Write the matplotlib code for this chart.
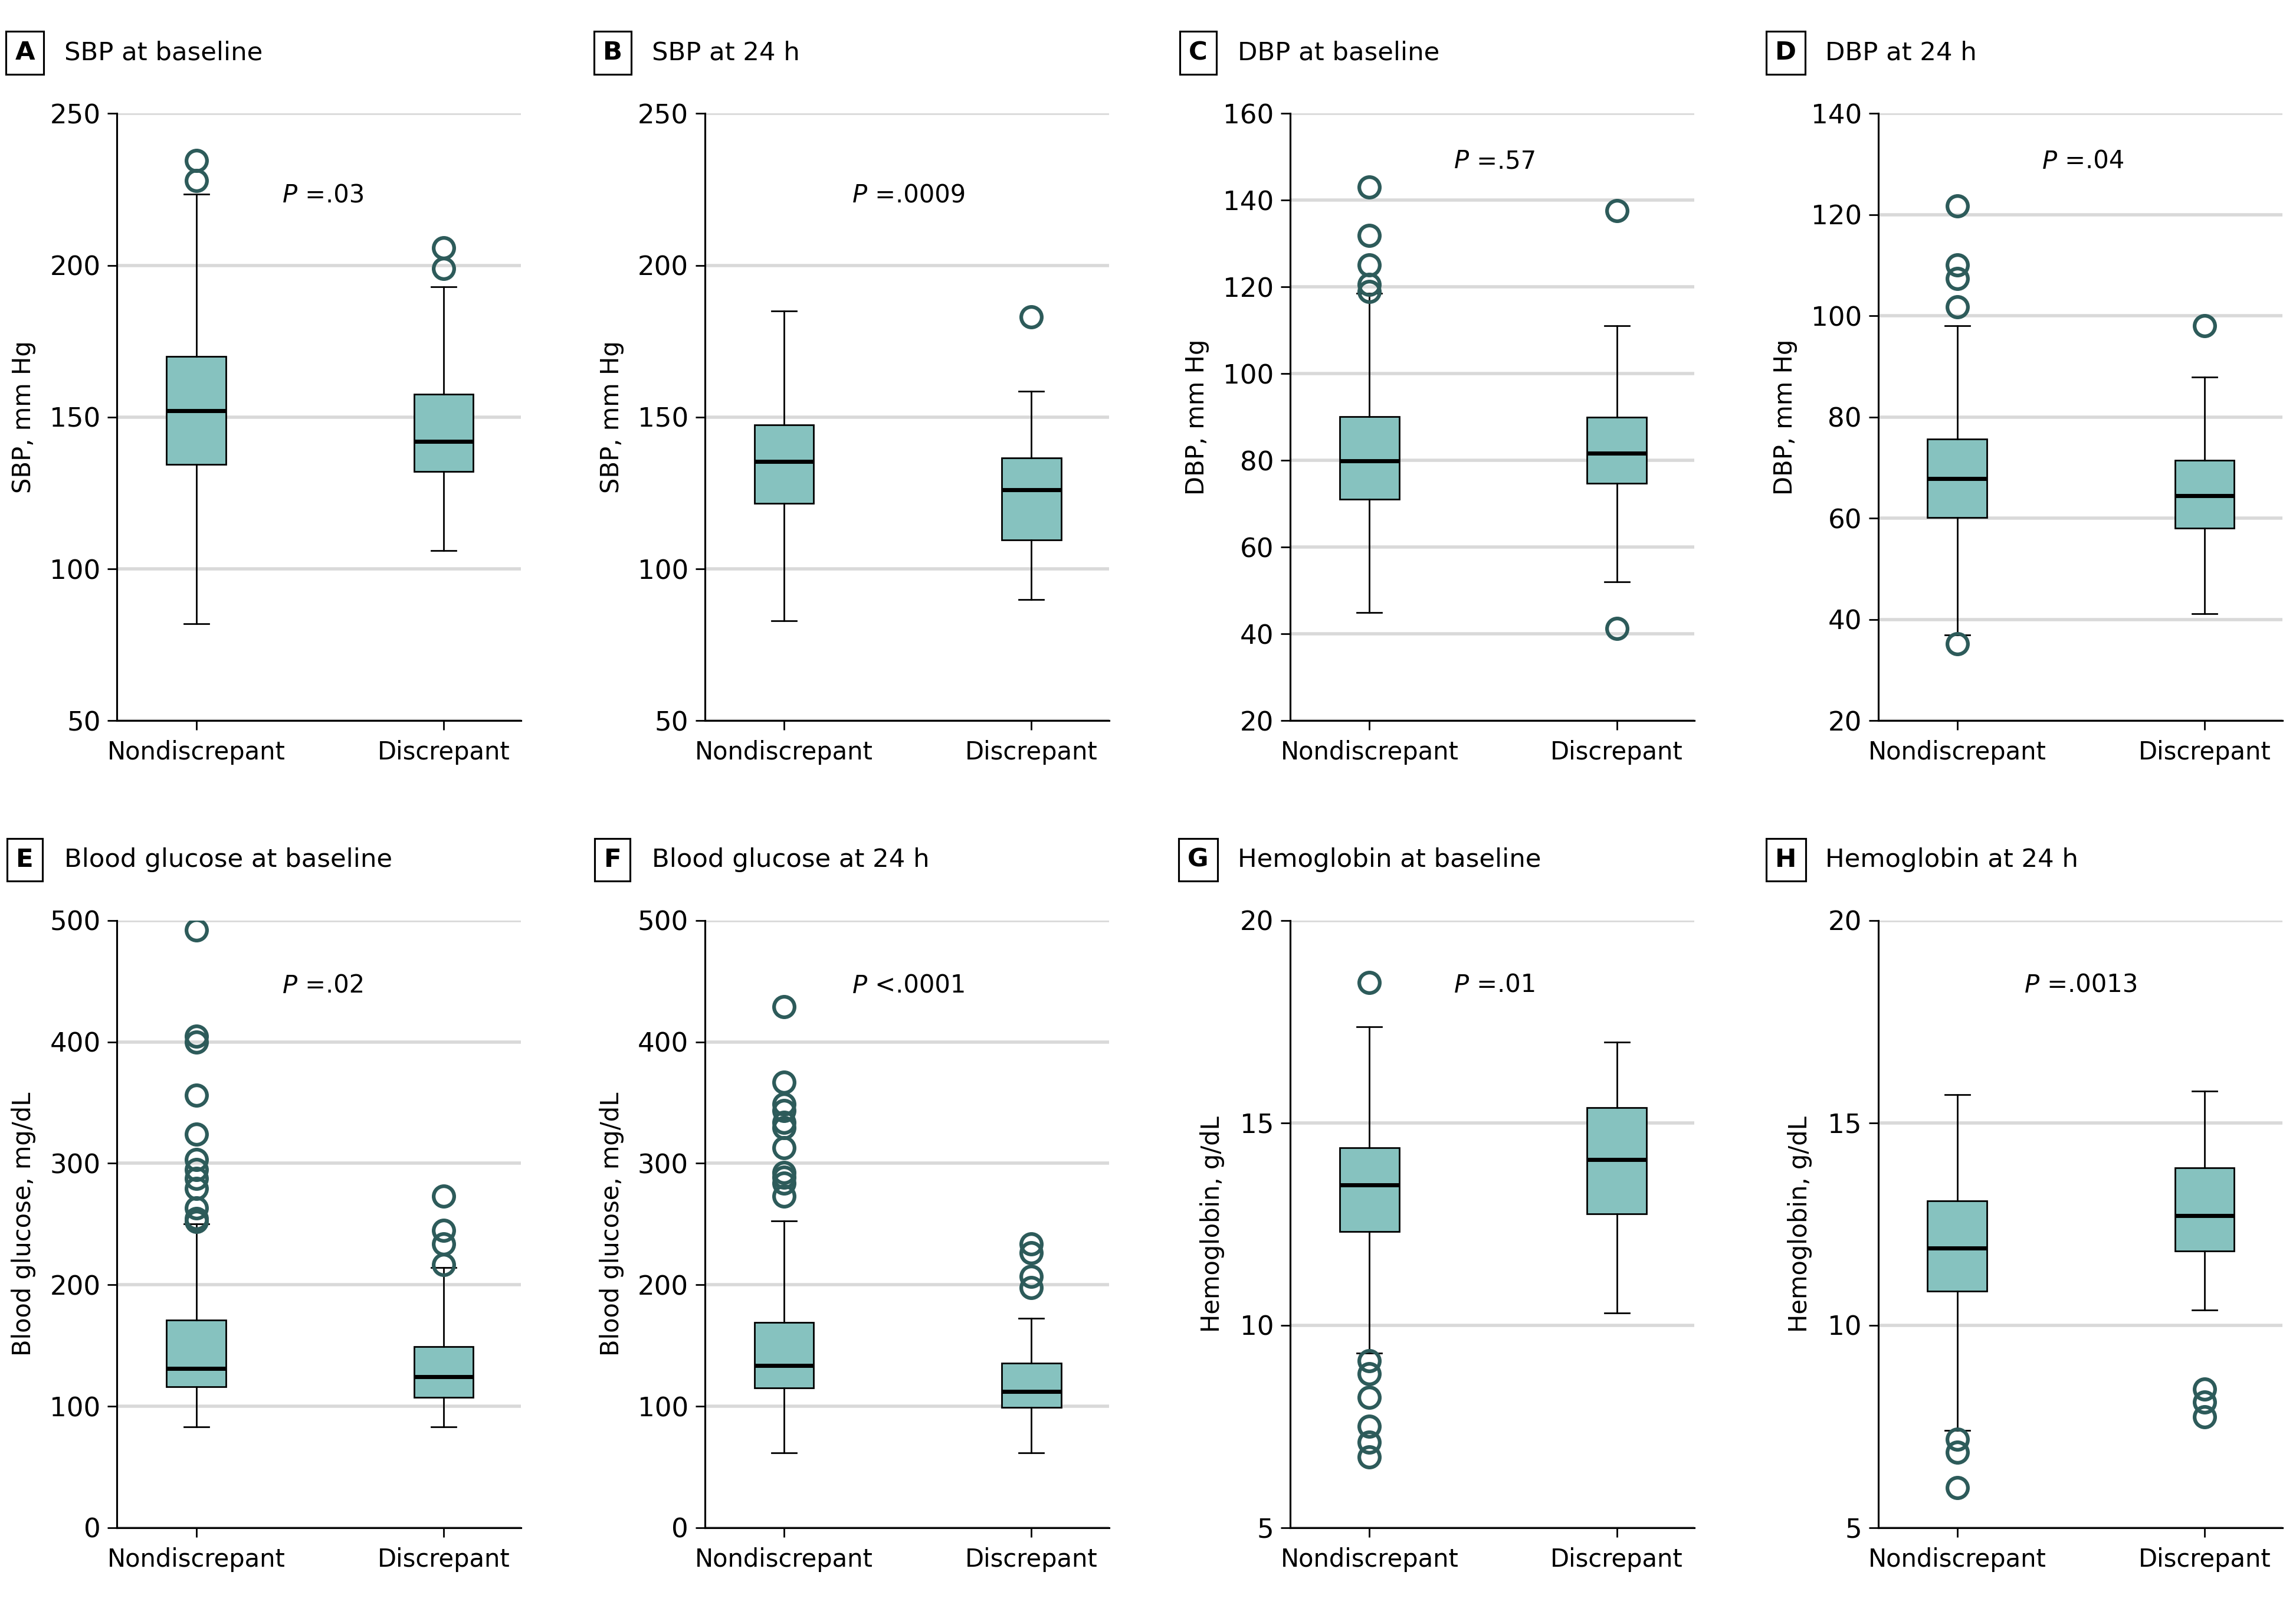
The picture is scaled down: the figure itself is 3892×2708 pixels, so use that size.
import matplotlib.pyplot as plt

plt.rcParams['font.family'] = ['DejaVu Sans']

groups = ['Nondiscrepant', 'Discrepant']
letters = ['A', 'B', 'C', 'D', 'E', 'F', 'G', 'H']
titles = ['SBP at baseline', 'SBP at 24 h', 'DBP at baseline', 'DBP at 24 h',
          'Blood glucose at baseline', 'Blood glucose at 24 h',
          'Hemoglobin at baseline', 'Hemoglobin at 24 h']
ylabels = ['SBP, mm Hg', 'SBP, mm Hg', 'DBP, mm Hg', 'DBP, mm Hg',
           'Blood glucose, mg/dL', 'Blood glucose, mg/dL',
           'Hemoglobin, g/dL', 'Hemoglobin, g/dL']
p_labels = ['=.03', '=.0009', '=.57', '=.04', '=.02', '<.0001', '=.01', '=.0013']
ylims = [(50, 250), (50, 250), (20, 160), (20, 140), (0, 500), (0, 500), (5, 20), (5, 20)]
yticks = [[50, 100, 150, 200, 250], [50, 100, 150, 200, 250],
          [20, 40, 60, 80, 100, 120, 140, 160], [20, 40, 60, 80, 100, 120, 140],
          [0, 100, 200, 300, 400, 500], [0, 100, 200, 300, 400, 500],
          [5, 10, 15, 20], [5, 10, 15, 20]]

# per panel: [nondiscrepant, discrepant]
whislo = [[82, 106], [83, 90], [45, 52], [37, 41.1], [83, 83], [61.4, 61.4], [9.31, 10.31], [7.4, 10.38]]
q1 = [[134.5, 132], [121.5, 109.5], [71, 74.8], [60.1, 58.1], [116, 107.4], [115, 99], [12.32, 12.75], [10.85, 11.83]]
med = [[152, 142], [135.3, 126], [79.9, 81.7], [67.9, 64.5], [131, 124.4], [133.7, 112.3], [13.46, 14.1], [11.91, 12.71]]
q3 = [[170, 157.5], [147.5, 136.5], [90.1, 90], [75.7, 71.5], [171, 149], [169, 135.3], [14.38, 15.38], [13.07, 13.89]]
whishi = [[223.5, 193], [185, 158.5], [118.5, 111], [98.1, 87.9], [250.4, 214], [252.4, 172.5], [17.38, 17.0], [15.69, 15.78]]
fliers = [
    [[234.5, 227.8], [205.7, 199]],
    [[], [183]],
    [[143, 131.9, 125.1, 120.6, 119], [137.6, 41.2]],
    [[121.7, 110.1, 107.4, 101.8, 35.2], [98.1]],
    [[492, 404.7, 400, 356, 324, 303, 295, 287.6, 279.5, 263.3, 254.4, 252], [273, 244.8, 233.4, 216.5]],
    [[428.9, 366.7, 349, 343.3, 333.6, 329.6, 312.6, 292.4, 288.4, 283.5, 273], [233.4, 226.2, 206.8, 197.9]],
    [[18.47, 9.12, 8.8, 8.22, 7.5, 7.11, 6.74], []],
    [[7.18, 6.87, 5.99], [8.42, 8.1, 7.74]],
]

# layout (figure fractions / data positions)
col_left = [0.051, 0.307, 0.562, 0.818]
row_bottom = [0.549, 0.044]
ax_w, ax_h = 0.176, 0.380
p_x = [0.35, 0.277, 0.343, 0.343, 0.349, 0.277, 0.343, 0.272]
p_y = [223, 223, 149, 130.5, 446, 446, 18.4, 18.4]
ylab_x = [-0.2, -0.2, -0.2, -0.2, -0.2, -0.2, -0.163, -0.163]

box_color = '#86c2bf'
flier_color = '#2d5b5a'
grid_color = '#d9d9d9'

fig = plt.figure(figsize=(15.568, 10.832), dpi=250)

for i in range(8):
    r, c = divmod(i, 4)
    ax = fig.add_axes([col_left[c], row_bottom[r], ax_w, ax_h])
    stats = []
    for g in range(2):
        stats.append(dict(med=med[i][g], q1=q1[i][g], q3=q3[i][g],
                          whislo=whislo[i][g], whishi=whishi[i][g],
                          fliers=fliers[i][g], label=groups[g]))
    ax.bxp(stats, positions=[0, 1], widths=0.24, capwidths=0.1, patch_artist=True,
           boxprops=dict(facecolor=box_color, edgecolor='black', linewidth=0.8),
           medianprops=dict(color='black', linewidth=2.0),
           whiskerprops=dict(color='black', linewidth=0.8),
           capprops=dict(color='black', linewidth=0.8),
           flierprops=dict(marker='o', markersize=10, markerfacecolor='none',
                           markeredgecolor=flier_color, markeredgewidth=1.8))
    ax.set_xlim(-0.32, 1.314)
    ax.set_ylim(*ylims[i])
    ax.set_yticks(yticks[i])
    ax.set_xticks([0, 1])
    ax.set_xticklabels(groups)
    ax.yaxis.grid(True, color=grid_color, linewidth=1.6)
    ax.set_axisbelow(True)
    for s in ['top', 'right']:
        ax.spines[s].set_visible(False)
    for s in ['left', 'bottom']:
        ax.spines[s].set_linewidth(0.9)
    ax.tick_params(axis='y', labelsize=13, length=4.5, width=0.8, direction='out')
    ax.tick_params(axis='x', labelsize=12, length=4.5, width=0.8, direction='out', pad=5)
    ax.set_ylabel(ylabels[i], fontsize=12)
    ax.yaxis.set_label_coords(ylab_x[i], 0.5)

    pt = ax.text(p_x[i], p_y[i], 'P', fontsize=12, style='italic', ha='left', va='center')
    ax.annotate(' ' + p_labels[i], xy=(1, 0.5), xycoords=pt, fontsize=12,
                ha='left', va='center')

    top = row_bottom[r] + ax_h
    fig.text(col_left[c] - 63 / 1568, top + 0.038, letters[i], fontsize=12.5,
             fontweight='bold', ha='center', va='center',
             bbox=dict(boxstyle='square,pad=0.35', facecolor='white',
                       edgecolor='black', linewidth=0.9))
    fig.text(col_left[c] - 36 / 1568, top + 0.038, titles[i], fontsize=12.5,
             ha='left', va='center')

fig.savefig('out.png', dpi=250)
